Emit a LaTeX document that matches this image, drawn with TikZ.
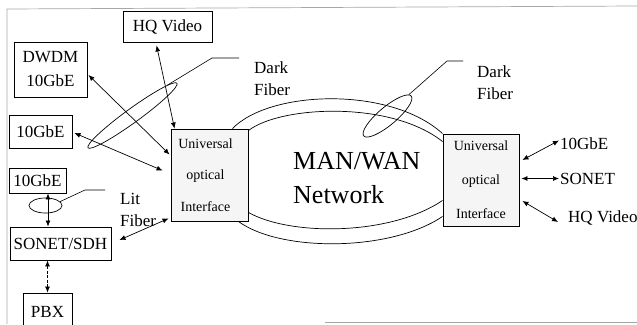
\documentclass[tikz,border=0pt]{standalone}
\usepackage{fontspec}
\setmainfont{Liberation Serif}
\usetikzlibrary{arrows.meta,shapes.geometric,calc}
\tikzset{
  box/.style={draw=black, line width=0.9pt, inner sep=0pt, font=\fontsize{17}{20}\selectfont, align=center},
  uoi/.style={draw=black, line width=0.9pt, fill=gray!8, inner sep=0pt, minimum width=77pt, minimum height=92pt, align=center},
  lbl/.style={inner sep=0pt, font=\fontsize{17}{22}\selectfont, align=left},
  dbl/.style={line width=0.7pt, {Latex[length=6pt,width=5pt]}-{Latex[length=6pt,width=5pt]}},
  lead/.style={line width=0.6pt},
  frame/.style={draw=gray!70, line width=0.7pt},
  fib/.style={line width=0.7pt},
  ring/.style={draw, ellipse, line width=0.7pt, inner sep=0pt}
}
\begin{document}
\begin{tikzpicture}[x=1pt,y=-1pt]
\useasboundingbox (0,0) rectangle (637,324);
\clip (0,0) rectangle (637,324);
% frame
\draw[frame] (637,6) -- (7,9) -- (7,324);
\draw[frame] (325,322) -- (637,322);

% left boxes
\node[box, minimum width=89pt, minimum height=31pt] (hq) at (167.5,26.5) {HQ Video};
\node[box, minimum width=73pt, minimum height=55pt, font=\fontsize{17}{24}\selectfont] (dwdm) at (50.5,69.5) {DWDM\\10GbE};
\node[box, minimum width=63pt, minimum height=33pt] (gbeA) at (40.5,131.5) {10GbE};
\node[box, minimum width=57pt, minimum height=25pt] (gbeB) at (37.5,180.5) {10GbE};
\node[box, minimum width=101pt, minimum height=33pt] (sonet) at (60.5,243.5) {SONET/SDH};
\node[box, minimum width=49pt, minimum height=37pt] (pbx) at (47.5,311.5) {PBX};

% universal optical interfaces
\node[uoi, font=\fontsize{14}{31.5}\selectfont] (uoiL) at (209.5,175) {\hspace*{-8pt}Universal\\\hspace*{-8pt}optical\\\hspace*{-8pt}Interface};
\node[uoi, minimum width=76pt, font=\fontsize{14}{34}\selectfont] (uoiR) at (481,180) {Universal\\optical\\Interface};

% network
\node[inner sep=0pt, anchor=west, align=left, font=\fontsize{26}{34}\selectfont] (net) at (293,178) {MAN/WAN\\Network};
\draw[fib] ([xshift=-16pt]uoiL.north east) .. controls (270,90) and (390,86) .. (uoiR.north west);
\draw[fib] ([yshift=-2pt]uoiL.north east) .. controls (280,106) and (390,100) .. ([yshift=-8pt]uoiR.north west);
\draw[fib] ([yshift=9pt]uoiL.south east) .. controls (290,236) and (390,236) .. ([yshift=26pt]uoiR.south west);
\draw[fib] ([xshift=-10pt]uoiL.south east) .. controls (280,252) and (390,252) .. ([yshift=10pt]uoiR.south west);

% left connectors
\draw[dbl] ([xshift=34pt,yshift=-3pt]hq.south west) -- ([xshift=4pt]uoiL.north west);
\draw[dbl] ([xshift=1pt,yshift=-5.5pt]dwdm.east) -- ([xshift=-1pt,yshift=-26pt]uoiL.north west);
\draw[dbl] ([xshift=2pt,yshift=-1.5pt]gbeA.east) -- ([xshift=-8pt,yshift=-42pt]uoiL.north west);
\draw[dbl] ([xshift=8pt,yshift=3.5pt]sonet.east) -- ([xshift=-2pt,yshift=3pt]uoiL.south west);
\draw[dbl] ([xshift=10.5pt]gbeB.south) -- ([xshift=10.5pt]gbeB.south |- sonet.north);
\draw[dbl, dash pattern=on 3pt off 1.5pt] (pbx.north |- sonet.south) -- (pbx.north);

% right labels and connectors
\node[lbl, anchor=west] (gbeR) at (560,143.5) {10GbE};
\node[lbl, anchor=west] (sonR) at (560,178.5) {SONET};
\node[lbl, anchor=west] (hqR) at (568,217.5) {HQ Video};
\draw[dbl] ([xshift=3pt,yshift=20pt]uoiR.east) -- ([xshift=-1pt,yshift=3pt]gbeR.west);
\draw[dbl] ([xshift=2pt]uoiR.east |- sonR.west) -- ([xshift=-1pt]sonR.west);
\draw[dbl] ([xshift=3pt,yshift=-21pt]uoiR.east) -- ([xshift=-10pt,yshift=-4.5pt]hqR.west);

% fiber rings and labels
\node[ring, rotate=36, minimum width=110pt, minimum height=14pt] (ringL) at (132.5,115.5) {};
\node[ring, rotate=40, minimum width=62pt, minimum height=18pt] (ringR) at (387.5,116) {};
\node[ring, minimum width=33pt, minimum height=15pt] (ringS) at (45.5,205.5) {};

\node[lbl, anchor=north west] (darkL) at (254,62) {Dark\\Fiber};
\node[lbl, anchor=north west] (darkR) at (477,66) {Dark\\Fiber};
\node[lbl, anchor=north west] (lit) at (120,193) {Lit\\Fiber};

\coordinate (leadL) at (239,58);
\coordinate (leadR) at (463,61);
\coordinate (leadS) at (105,190);
\draw[lead] (leadL) -- ++(-27,0) -- (ringL.5);
\draw[lead] (leadR) -- ++(-16,0) -- (ringR.5);
\draw[lead] (leadS) -- ++(-20,0) -- (ringS.15);
\end{tikzpicture}
\end{document}
